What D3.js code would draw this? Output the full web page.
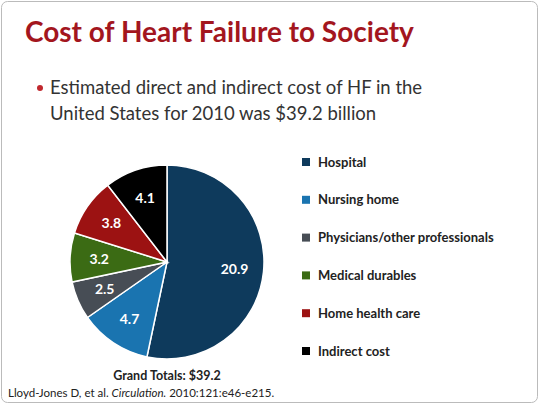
<!DOCTYPE html><html><head><meta charset="utf-8"><script src="https://cdn.jsdelivr.net/npm/d3@7"></script>
<style>body{margin:0;background:#fff}</style></head><body><svg width="540" height="405"></svg>
<script>
const categories=["Hospital","Nursing home","Physicians/other professionals","Medical durables","Home health care","Indirect cost"];
const values=[20.9,4.7,2.5,3.2,3.8,4.1];
const colors=["#0e3a5c","#1a74b0","#474d55","#3b6b14","#9c1212","#000000"];
const svg=d3.select("svg");
const F="Lato, 'Open Sans', sans-serif";
svg.append("rect").attr("x",1.5).attr("y",1.5).attr("width",536).attr("height",401).attr("rx",6).attr("fill","#fff").attr("stroke","#bbb");
svg.append("text").attr("x",25).attr("y",42).attr("font-family",F).attr("font-weight","bold").attr("font-size",28).attr("fill","#a3161e").text("Cost of Heart Failure to Society");
svg.append("circle").attr("cx",40).attr("cy",88).attr("r",3).attr("fill","#c0282e");
[["Estimated direct and indirect cost of HF in the",94],["United States for 2010 was $39.2 billion",120]].forEach(([t,y])=>svg.append("text").attr("x",50).attr("y",y).attr("font-family",F).attr("font-size",18.5).attr("fill","#333").text(t));
const cx=167,cy=262,r=97;
const pie=d3.pie().sort(null)(values);
const arc=d3.arc().innerRadius(0).outerRadius(r);
const lab=d3.arc().innerRadius(r*0.7).outerRadius(r*0.7);
const g=svg.append("g").attr("transform",`translate(${cx},${cy})`);
g.selectAll("path").data(pie).join("path").attr("d",arc).attr("fill",(d,i)=>colors[i]).attr("stroke","#fff").attr("stroke-width",1.5);
g.selectAll("text").data(pie).join("text").attr("transform",d=>`translate(${lab.centroid(d)})`).attr("text-anchor","middle").attr("dy","0.35em").attr("font-family",F).attr("font-weight","bold").attr("font-size",14).attr("fill","#fff").text(d=>d.data.toFixed(1));
svg.append("text").attr("x",cx).attr("y",380).attr("text-anchor","middle").attr("font-family",F).attr("font-weight","bold").attr("font-size",12.5).attr("fill","#222").text("Grand Totals: $39.2");
const ly=d3.scalePoint().domain(categories).range([162,351]);
categories.forEach((c,i)=>{svg.append("rect").attr("x",302).attr("y",ly(c)-4).attr("width",8).attr("height",8).attr("fill",colors[i]);
svg.append("text").attr("x",318).attr("y",ly(c)+4.5).attr("font-family",F).attr("font-weight","bold").attr("font-size",13).attr("fill","#222").text(c);});
const cit=svg.append("text").attr("x",8).attr("y",397).attr("font-family",F).attr("font-size",11.5).attr("fill","#222");
cit.append("tspan").text("Lloyd-Jones D, et al. ");cit.append("tspan").attr("font-style","italic").text("Circulation.");cit.append("tspan").text(" 2010:121:e46-e215.");
</script></body></html>
